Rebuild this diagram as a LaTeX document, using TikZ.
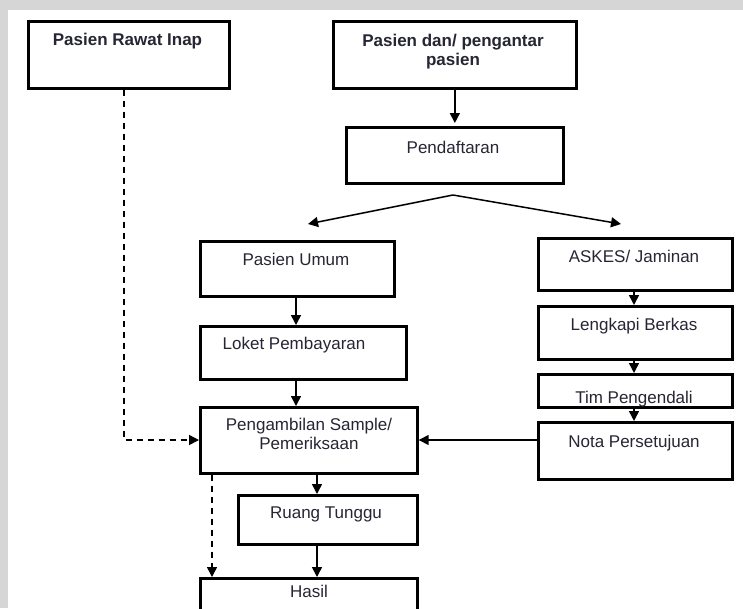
\documentclass[tikz,border=0pt]{standalone}
\usepackage{fontspec}
\setmainfont{Liberation Sans}
\usetikzlibrary{arrows.meta}
\definecolor{strip}{RGB}{214,214,214}
\definecolor{ink}{RGB}{38,38,52}

\begin{document}
\begin{tikzpicture}[x=1pt,y=-1pt,
  box/.style={draw=black, line width=2.7pt, fill=white, inner sep=0pt, anchor=north west},
  txt/.style={text=ink, font=\fontsize{17}{20}\selectfont, inner sep=0pt, anchor=base},
  btxt/.style={txt, font=\fontsize{17}{20}\selectfont\bfseries},
  arr/.style={line width=1.5pt, -{Triangle[length=10pt,width=10pt]}},
  darr/.style={arr, dash pattern=on 6pt off 5pt},
]
\useasboundingbox (0,0) rectangle (743,608);
\clip (0,0) rectangle (743,608);

% page frame strips
\fill[strip] (0,0) rectangle (743,10);
\fill[strip] (0,0) rectangle (8,608);

% boxes
\node[box, minimum width=201, minimum height=67] (inap) at (27,20) {};
\node[box, minimum width=243, minimum height=67] (pas)  at (332,20) {};
\node[box, minimum width=217, minimum height=56] (pend) at (345,126) {};
\node[box, minimum width=194, minimum height=55] (umum) at (199,240) {};
\node[box, minimum width=194, minimum height=52] (askes) at (537,237) {};
\node[box, minimum width=206, minimum height=53] (loket) at (199,325) {};
\node[box, minimum width=194, minimum height=53] (lengk) at (537,305) {};
\node[box, minimum width=194, minimum height=33] (tim) at (537,373) {};
\node[box, minimum width=194, minimum height=57] (nota) at (537,421) {};
\node[box, minimum width=217, minimum height=66] (peng) at (199,406) {};
\node[box, minimum width=179, minimum height=49] (ruang) at (237,494) {};
\node[box, minimum width=217, minimum height=60] (hasil) at (199,577) {};

% texts
\node[btxt] (inap-t) at (127.5,45) {Pasien Rawat Inap};
\node[btxt] (pas-t1) at (453,46) {Pasien dan/ pengantar};
\node[btxt] (pas-t2) at (453,65) {pasien};
\node[txt] (pend-t) at (453,153) {Pendaftaran};
\node[txt] (umum-t) at (296,265) {Pasien Umum};
\node[txt] (askes-t) at (634,262) {ASKES/ Jaminan};
\node[txt] (loket-t) at (294,349) {Loket Pembayaran};
\node[txt] (lengk-t) at (634,330) {Lengkapi Berkas};
% the label sits low in its box, so its descenders run under the bottom border
\begin{scope}
  \clip ([shift={(1.35pt,1.35pt)}]tim.south west) rectangle ([shift={(-1.35pt,-1.35pt)}]tim.north east);
  \node[txt] (tim-t) at (634,403.5) {Tim Pengendali};
\end{scope}
\node[txt] (nota-t) at (634,447) {Nota Persetujuan};
\node[txt] (peng-t1) at (309,430) {Pengambilan Sample/};
\node[txt] (peng-t2) at (309,449) {Pemeriksaan};
\node[txt] (ruang-t) at (326,518) {Ruang Tunggu};
\node[txt] (hasil-t) at (309,597) {Hasil};

% helper points
\coordinate (apex) at (453,195);
\coordinate (ltip) at (308,224);
\coordinate (rtip) at (621,224);
\coordinate (row) at (0,440);
\coordinate (inapx) at (124,0);
\coordinate (dashx) at (212,0);
\coordinate (midx) at (317,0);
\coordinate (lcol) at (296,0);
\coordinate (rcol) at (634,0);

% connectors
\draw[arr] (pas.south -| pend.north) -- ([yshift=3pt]pend.north);
\draw[arr] (apex) -- (ltip);
\draw[arr] (apex) -- (rtip);
\draw[arr] (umum.south -| lcol) -- (loket.north -| lcol);
\draw[arr] (loket.south -| lcol) -- (peng.north -| lcol);
\draw[arr] (askes.south -| rcol) -- (lengk.north -| rcol);
\draw[arr] (lengk.south -| rcol) -- (tim.north -| rcol);
\draw[arr] (tim.south -| rcol) -- (nota.north -| rcol);
\draw[arr] (nota.west |- row) -- (peng.east |- row);
\draw[darr] (inap.south -| inapx) -- (inapx |- row) -- (peng.west |- row);
\draw[arr] (peng.south -| midx) -- (ruang.north -| midx);
\draw[arr] (ruang.south -| midx) -- (hasil.north -| midx);
\draw[darr] (peng.south -| dashx) -- (hasil.north -| dashx);
\end{tikzpicture}
\end{document}
